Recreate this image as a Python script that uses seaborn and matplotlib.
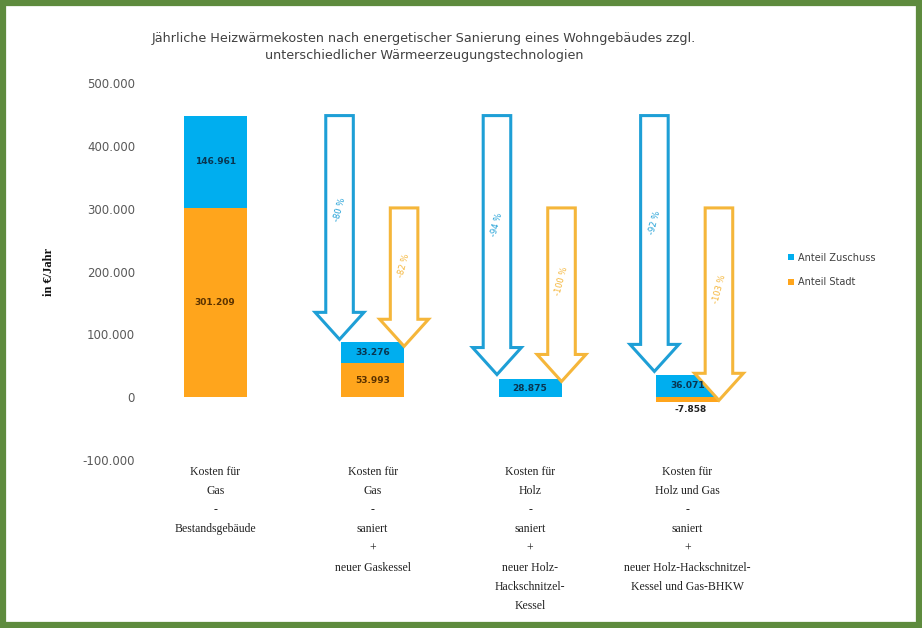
import matplotlib
matplotlib.use("Agg")
import matplotlib.pyplot as plt
from matplotlib.patches import FancyArrow, Rectangle
from matplotlib.ticker import FuncFormatter
import seaborn as sns
import pandas as pd

categories = [
    "Kosten für\nGas\n-\nBestandsgebäude",
    "Kosten für\nGas\n-\nsaniert\n+\nneuer Gaskessel",
    "Kosten für\nHolz\n-\nsaniert\n+\nneuer Holz-\nHackschnitzel-\nKessel",
    "Kosten für\nHolz und Gas\n-\nsaniert\n+\nneuer Holz-Hackschnitzel-\nKessel und Gas-BHKW",
]
anteil_zuschuss = [146961, 33276, 28875, 36071]
anteil_stadt = [301209, 53993, 0, -7858]
zuschuss_labels = ["146.961", "33.276", "28.875", "36.071"]
stadt_labels = ["301.209", "53.993", "", "-7.858"]
arrow_blue_end = [92000, 36000, 41000]
arrow_orange_end = [81000, 25000, -5000]
arrow_blue_text = ["-80 %", "-94 %", "-92 %"]
arrow_orange_text = ["-82 %", "-100 %", "-103 %"]
y_ticks = [-100000, 0, 100000, 200000, 300000, 400000, 500000]

BLUE = "#00AEEF"
ORANGE = "#FFA51C"
BLUE_EDGE = "#1E9FD6"
ORANGE_EDGE = "#F5B63A"

sns.set_theme(style="white")
fig = plt.figure(figsize=(9.22, 6.28), dpi=100)
ax = fig.add_axes([0.148, 0.2675, 0.683, 0.6003])

df = pd.DataFrame({
    "cat": categories,
    "blue_top": [b + max(o, 0) for b, o in zip(anteil_zuschuss, anteil_stadt)],
    "orange": anteil_stadt,
})
sns.barplot(data=df, x="cat", y="blue_top", color=BLUE, width=0.4,
            saturation=1, ax=ax, label="Anteil Zuschuss", zorder=2,
            linewidth=0, edgecolor="none")
sns.barplot(data=df, x="cat", y="orange", color=ORANGE, width=0.4,
            saturation=1, ax=ax, label="Anteil Stadt", zorder=3,
            linewidth=0, edgecolor="none")

ax.set_ylim(-100000, 500000)
ax.set_xlim(-0.5, 3.5)
ax.set_yticks(y_ticks)
ax.yaxis.set_major_formatter(FuncFormatter(lambda v, p: f"{int(v):,}".replace(",", ".")))
ax.tick_params(axis="y", labelsize=8.5, labelcolor="#595959", length=0, pad=1)
ax.tick_params(axis="x", length=0, pad=4)
for lab in ax.get_xticklabels():
    lab.set_fontfamily("Liberation Serif")
    lab.set_fontsize(8.5)
    lab.set_color("#222222")
    lab.set_linespacing(1.8)
    lab.set_verticalalignment("top")
for s in ax.spines.values():
    s.set_visible(False)
ax.set_xlabel("")
ax.set_ylabel("in €/Jahr", fontsize=9, fontweight="bold", fontfamily="Liberation Serif",
              labelpad=20, color="#111111")

# value labels
for i, (b, o) in enumerate(zip(anteil_zuschuss, anteil_stadt)):
    base = max(o, 0)
    ax.text(i, base + b / 2, zuschuss_labels[i], ha="center", va="center",
            fontsize=6.5, fontweight="bold", color="#0a3550", zorder=5)
    if stadt_labels[i]:
        if o > 0:
            ax.text(i, o / 2, stadt_labels[i], ha="center", va="center",
                    fontsize=6.5, fontweight="bold", color="#5a3200", zorder=5)
        else:
            ax.text(i + 0.02, o - 11000, stadt_labels[i], ha="center", va="center",
                    fontsize=6.5, fontweight="bold", color="#222222", zorder=5)

# arrows
blue_start = anteil_zuschuss[0] + anteil_stadt[0]
orange_start = anteil_stadt[0]
head_len = 43000
for k in range(3):
    i = k + 1
    for xc, y0, y1, col, txt in [
        (i - 0.21, blue_start, arrow_blue_end[k], BLUE_EDGE, arrow_blue_text[k]),
        (i + 0.2, orange_start, arrow_orange_end[k], ORANGE_EDGE, arrow_orange_text[k]),
    ]:
        arr = FancyArrow(xc, y0, 0, y1 - y0, width=0.175, head_width=0.31,
                         head_length=head_len, length_includes_head=True,
                         facecolor="white", edgecolor=col, linewidth=2.2, zorder=4)
        ax.add_patch(arr)
        ax.text(xc, y0 - (y0 - y1) * 0.42, txt, rotation=75, ha="center", va="center",
                fontsize=6, color=col, zorder=6)

leg = ax.legend(loc="center left", bbox_to_anchor=(0.845, 0.57), bbox_transform=fig.transFigure,
                frameon=False, fontsize=7, handlelength=0.6, handleheight=0.6,
                labelspacing=1.5, handletextpad=0.4)
for t in leg.get_texts():
    t.set_color("#404040")

fig.text(0.46, 0.938, "Jährliche Heizwärmekosten nach energetischer Sanierung eines Wohngebäudes zzgl.",
         ha="center", va="center", fontsize=9.2, color="#404040")
fig.text(0.46, 0.912, "unterschiedlicher Wärmeerzeugungstechnologien",
         ha="center", va="center", fontsize=9.2, color="#404040")

fig.patches.append(Rectangle((0.003, 0.005), 0.994, 0.99, transform=fig.transFigure,
                             fill=False, edgecolor="#5E8B3E", linewidth=4.5))

fig.savefig("out.png", dpi=100)
